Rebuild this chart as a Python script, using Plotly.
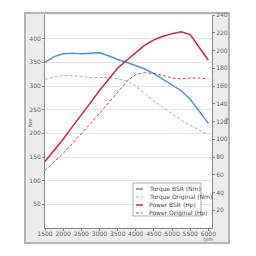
import plotly.graph_objects as go

rpm = [1500, 1750, 2000, 2250, 2500, 2750, 3000, 3250, 3500, 3750, 4000,
       4250, 4500, 4750, 5000, 5250, 5500, 5750, 6000]
torque_bsr = [350, 362, 368, 369, 368, 369, 370, 364, 356, 350, 343,
              336, 326, 314, 302, 290, 272, 247, 221]
torque_orig = [314, 319, 322, 322, 320, 318, 318, 318, 315, 311, 300,
               284, 268, 255, 241, 228, 217, 207, 197]
power_bsr = [75, 87, 100, 114, 127, 141, 155, 168, 180, 189, 198,
             206, 212, 216, 219, 221, 218, 204, 189]
power_orig = [65, 74, 84, 95, 106, 117, 129, 141, 153, 165, 173,
              175, 174, 172, 169, 168, 169, 169, 168]

left_ticks = [50, 100, 150, 200, 250, 300, 350, 400]
right_ticks = [20, 40, 60, 80, 100, 120, 140, 160, 180, 200, 220, 240]
x_ticks = [1500, 2000, 2500, 3000, 3500, 4000, 4500, 5000, 5500, 6000]

legend_names = ["Torque BSR (Nm)", "Torque Original (Nm)", "Power BSR (Hp)", "Power Original (Hp)"]
c_tb, c_to, c_pb, c_po = "#4a93cc", "#7cc0e0", "#c8204c", "#c8406a"
legend_styles = [(c_tb, "solid", 1.5), (c_to, "3px,2px", 1), (c_pb, "solid", 1.5), (c_po, "3px,2px", 1)]

fig = go.Figure()
fig.add_trace(go.Scatter(x=rpm, y=torque_bsr, mode="lines", line=dict(color=c_tb, width=1.5), yaxis="y"))
fig.add_trace(go.Scatter(x=rpm, y=torque_orig, mode="lines", line=dict(color=c_to, width=1, dash="3px,2px"), yaxis="y"))
fig.add_trace(go.Scatter(x=rpm, y=power_bsr, mode="lines", line=dict(color=c_pb, width=1.5), yaxis="y2"))
fig.add_trace(go.Scatter(x=rpm, y=power_orig, mode="lines", line=dict(color=c_po, width=1, dash="3px,2px"), yaxis="y2"))

L, R, T, B = 45, 44, 15, 28
W = 256 - L - R
H = 256 - T - B

def px(xp):
    return (xp - L) / W

def py(yp):
    return (256 - B - yp) / H

tickfont = dict(family="DejaVu Sans", size=6, color="#666666")
tickfont2 = dict(family="DejaVu Sans", size=6, color="#666666")
tickfontx = dict(family="DejaVu Sans", size=6, color="#666666")

shapes = [
    dict(type="rect", xref="paper", yref="paper", x0=px(25), x1=px(229), y0=py(243), y1=py(13),
         fillcolor="#ececec", line=dict(color="#b4b4b4", width=2), layer="below"),
    dict(type="rect", xref="paper", yref="paper", x0=0, x1=1, y0=0, y1=1,
         fillcolor="#ffffff", line=dict(width=0), layer="below"),
    dict(type="rect", xref="paper", yref="paper", x0=px(133), x1=px(201), y0=py(216), y1=py(183),
         fillcolor="#ffffff", line=dict(color="#aaaaaa", width=1), layer="above"),
]
annotations = []
rows = [189, 197, 205, 213]
for name, (col, dash, wd), ry in zip(legend_names, legend_styles, rows):
    shapes.append(dict(type="line", xref="paper", yref="paper", x0=px(136), x1=px(143), y0=py(ry), y1=py(ry),
                       line=dict(color=col, width=wd, dash=dash), layer="above"))
    annotations.append(dict(text=name, xref="paper", yref="paper", x=px(147), y=py(ry), xanchor="left",
                            yanchor="middle", showarrow=False, font=dict(family="DejaVu Sans", size=6, color="#444444")))

annotations += [
    dict(text="Nm", xref="paper", yref="paper", x=px(30), y=py(123), textangle=-90, showarrow=False,
         xanchor="center", yanchor="middle", font=dict(family="DejaVu Sans", size=5, color="#666666")),
    dict(text="Hp", xref="paper", yref="paper", x=px(227), y=py(121), textangle=-90, showarrow=False,
         xanchor="center", yanchor="middle", font=dict(family="DejaVu Sans", size=5, color="#666666")),
    dict(text="rpm", xref="x", yref="paper", x=x_ticks[-1], y=py(239.5), showarrow=False,
         xanchor="center", yanchor="middle", font=dict(family="DejaVu Sans", size=5, color="#666666")),
]

fig.update_layout(
    width=256, height=256,
    margin=dict(l=L, r=R, t=T, b=B, pad=0),
    paper_bgcolor="#ffffff", plot_bgcolor="rgba(0,0,0,0)",
    showlegend=False,
    shapes=shapes, annotations=annotations,
    xaxis=dict(range=[1500, 6100], tickvals=x_ticks, ticktext=[str(v) for v in x_ticks],
               showgrid=False, zeroline=False, showline=True, linecolor="#888888", linewidth=1,
               ticks="outside", ticklen=2, tickcolor="#888888", tickfont=tickfontx,
               ticklabelstandoff=-2, color="#666666"),
    yaxis=dict(range=[0, 450], tickvals=left_ticks, showgrid=True, gridcolor="#e4e4e4", gridwidth=1,
               zeroline=False, showline=True, linecolor="#888888", linewidth=1,
               ticks="outside", ticklen=2, tickcolor="#888888", tickfont=tickfont, color="#666666"),
    yaxis2=dict(range=[0, 240], tickvals=right_ticks, overlaying="y", side="right", showgrid=False,
                zeroline=False, showline=True, linecolor="#888888", linewidth=1,
                ticks="outside", ticklen=2, tickcolor="#888888", tickfont=tickfont2, color="#666666"),
)

fig.write_html("out.html")
